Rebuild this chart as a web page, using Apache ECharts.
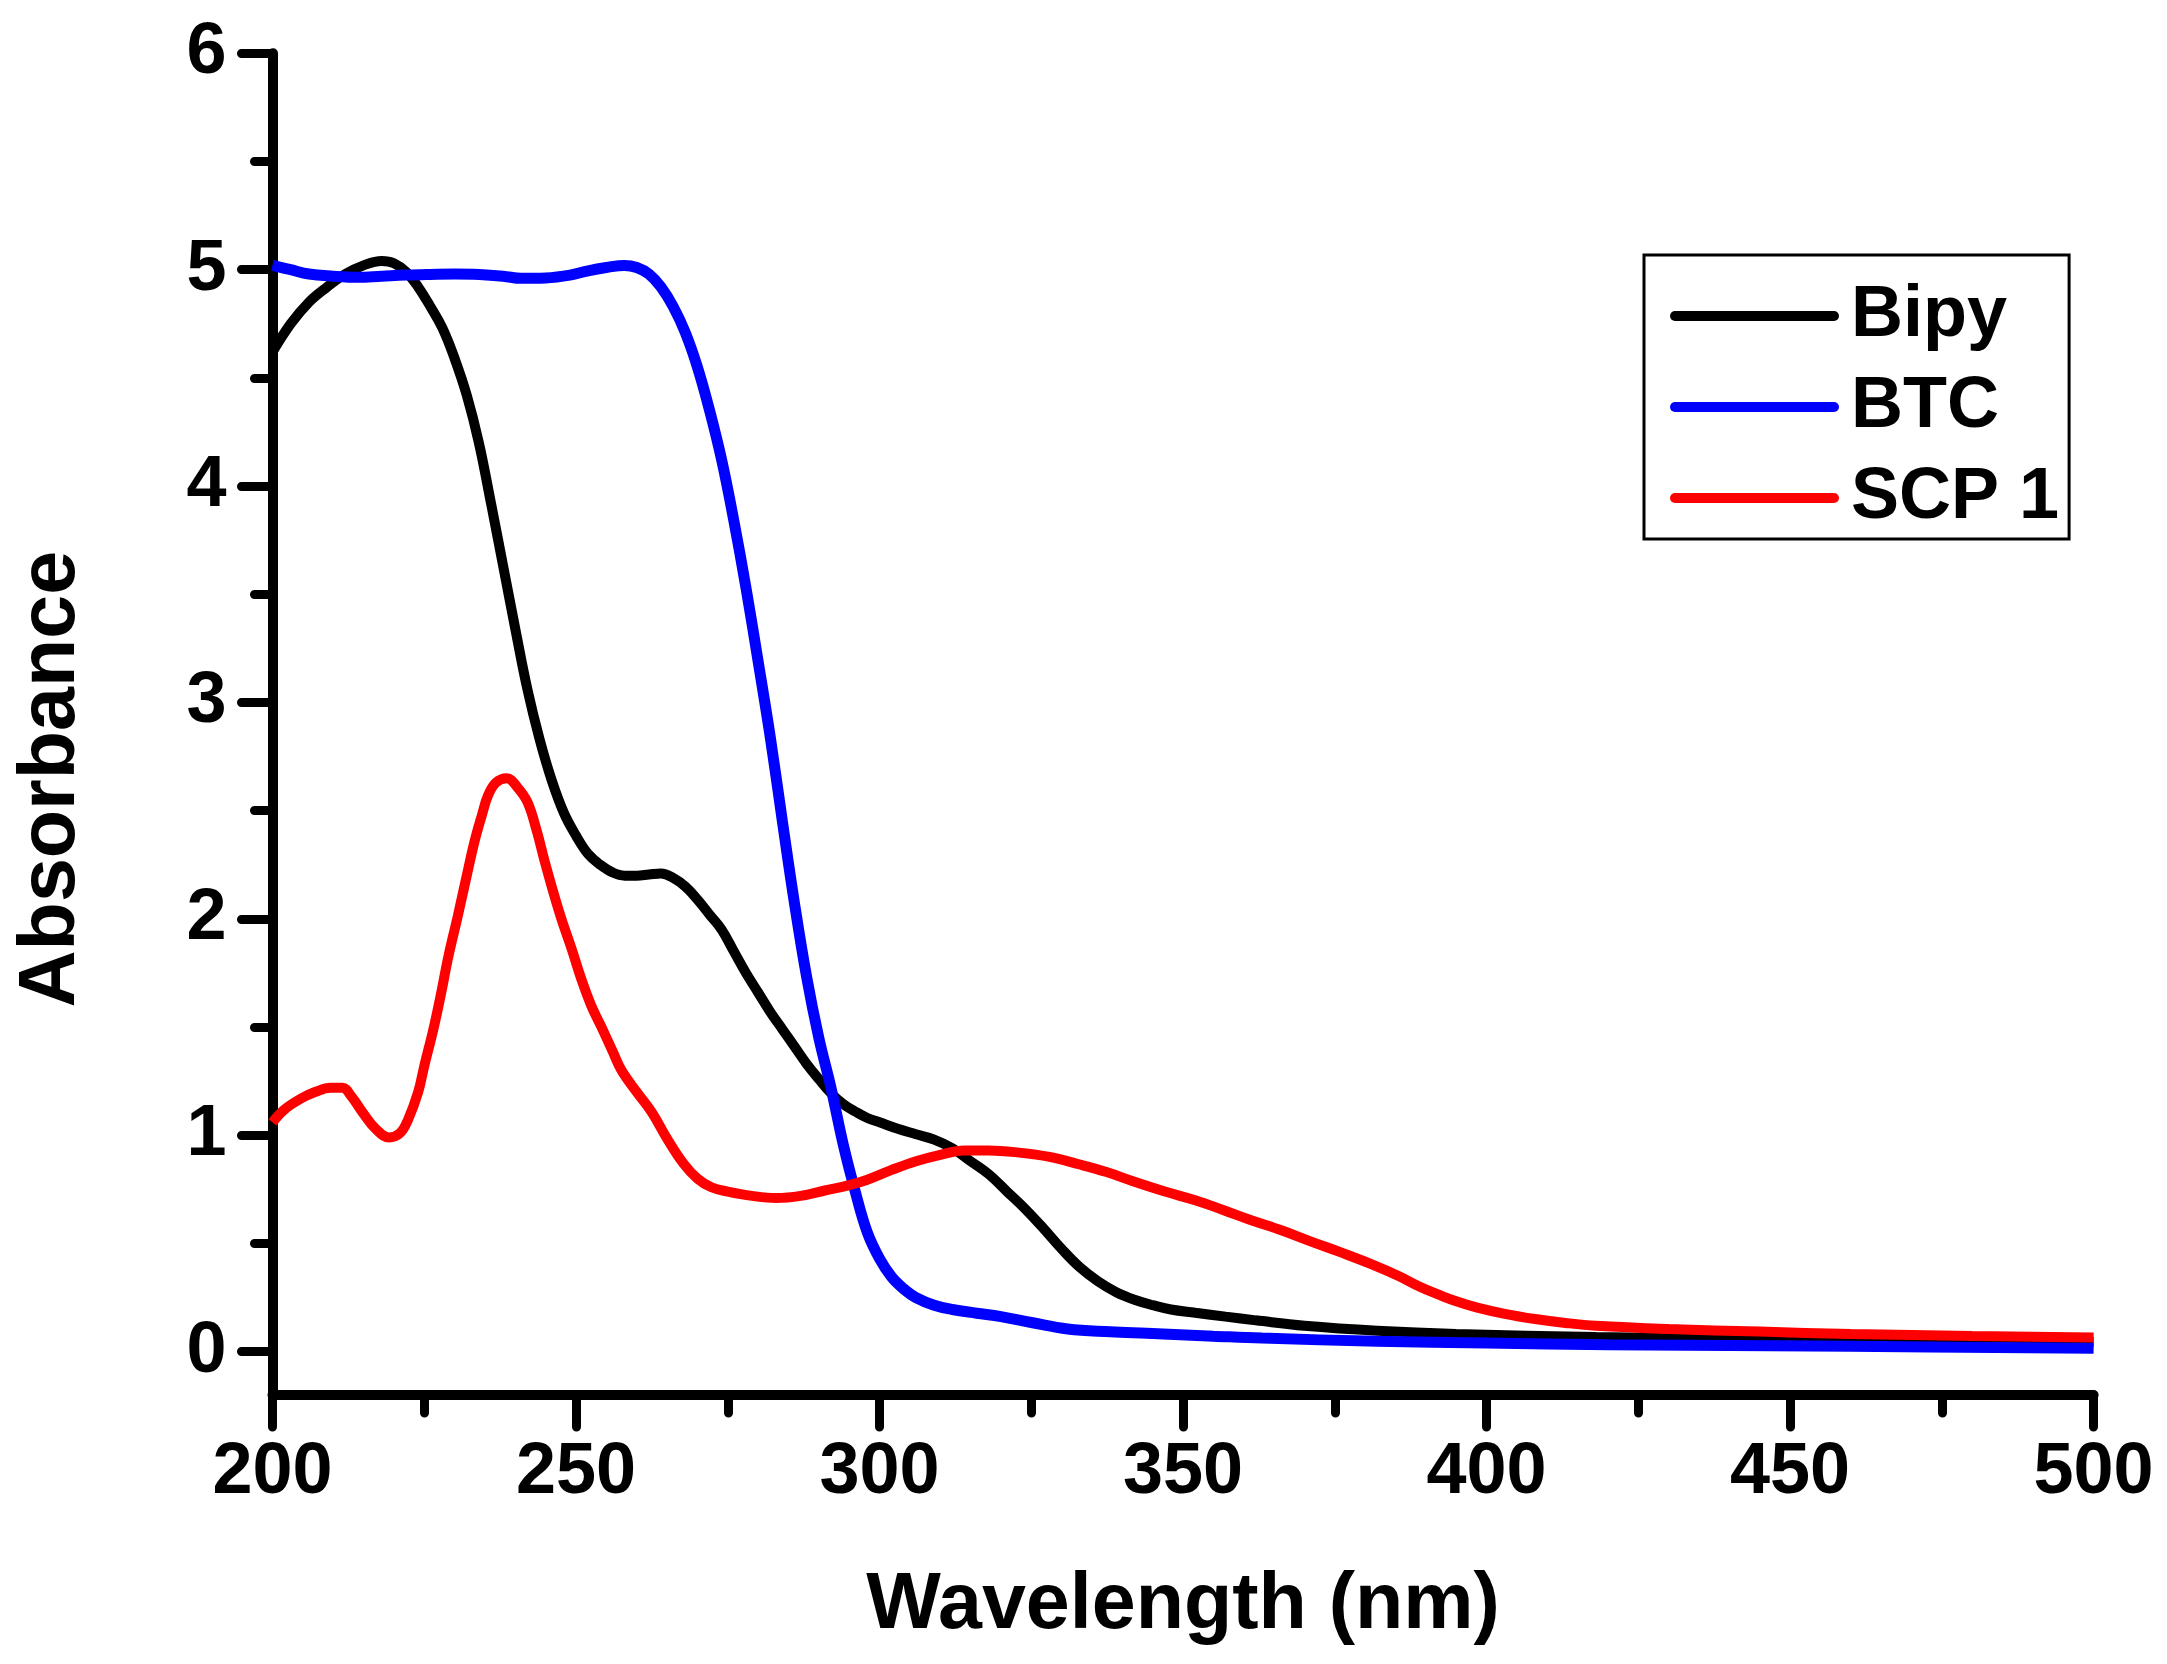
<!DOCTYPE html>
<html>
<head>
<meta charset="utf-8">
<script src="https://cdn.jsdelivr.net/npm/echarts@6/dist/echarts.min.js"></script>
<style>
html,body{margin:0;padding:0;background:#fff;}
#chart{width:2167px;height:1664px;}
</style>
</head>
<body>
<div id="chart"></div>
<script>
// ---- data ----
const bipyWl  = [200,203,206,209,212,215,218,220,222,224,226,228,230,232,234,236,238,240,242,244,246,248,250,252,254,256,258,260,262,264,266,268,270,272,274,276,278,280,282,284,286,288,290,292,294,296,298,300,303,306,309,312,315,318,321,324,327,330,333,336,339,342,345,348,352,357,362,370,382,395,418,440,467,500];
const bipyAbs = [4.62,4.75,4.85,4.92,4.98,5.02,5.04,5.03,4.99,4.92,4.83,4.73,4.59,4.42,4.20,3.92,3.63,3.34,3.06,2.83,2.64,2.49,2.385,2.30,2.25,2.215,2.20,2.20,2.205,2.21,2.19,2.15,2.09,2.02,1.95,1.85,1.75,1.66,1.57,1.49,1.41,1.33,1.26,1.195,1.145,1.11,1.08,1.06,1.03,1.005,0.98,0.94,0.88,0.82,0.74,0.66,0.57,0.475,0.39,0.325,0.275,0.24,0.215,0.195,0.18,0.162,0.145,0.12,0.097,0.082,0.068,0.06,0.054,0.045];

const btcWl  = [200,203,206,210,214,218,222,226,230,234,238,241,245,249,252,255,258,260,262,264,266,268,270,272,274,276,278,280,282,284,286,288,290,292,294,296,298,300,302,304,306,309,312,316,320,325,331,338,344,355,363,382,400,420,460,500];
const btcAbs = [5.02,5.0,4.98,4.97,4.965,4.97,4.975,4.978,4.98,4.978,4.97,4.96,4.962,4.975,4.995,5.01,5.02,5.01,4.98,4.92,4.83,4.71,4.55,4.35,4.12,3.84,3.53,3.19,2.84,2.45,2.07,1.73,1.45,1.22,0.96,0.74,0.55,0.43,0.345,0.29,0.25,0.215,0.195,0.178,0.162,0.135,0.105,0.092,0.085,0.072,0.063,0.048,0.04,0.032,0.025,0.016];

const scpWl  = [200,202,204.7,207,209.6,211.5,213,215,217,219.2,221,222.3,224,225,226.5,227.8,229,230.5,232,233.3,234.5,235.5,236.8,238.6,240.3,242,243.5,244.8,246.2,247.6,249.3,250.9,252.5,254.2,256,257.5,260,262.4,265.1,267.7,270,272.3,275,279,283,287,291,295,298,302,306,310,314,318,323,328,333,337.4,342,347,352,356.7,361,366.3,371,375.9,381,385.5,389,392,395,398.3,403,408,413,418,430,445,460,480,500];
const scpAbs = [1.06,1.12,1.17,1.20,1.22,1.22,1.18,1.10,1.03,0.99,1.01,1.07,1.2,1.32,1.49,1.66,1.83,2.01,2.2,2.36,2.48,2.57,2.63,2.65,2.61,2.54,2.41,2.27,2.13,2.0,1.86,1.72,1.60,1.50,1.39,1.30,1.2,1.11,0.98,0.87,0.80,0.76,0.74,0.72,0.71,0.72,0.745,0.77,0.795,0.84,0.88,0.91,0.93,0.93,0.92,0.90,0.865,0.83,0.785,0.74,0.70,0.654,0.61,0.56,0.51,0.46,0.405,0.35,0.30,0.265,0.233,0.205,0.175,0.151,0.133,0.12,0.105,0.093,0.082,0.073,0.066];

const seriesNames = ['Bipy','BTC','SCP 1'];
const yMajorTicks = [0,1,2,3,4,5,6];
const yMinorTicks = [0.5,1.5,2.5,3.5,4.5,5.5];

// ---- chart ----
const FONT = "'Liberation Sans', Arial, sans-serif";
const pair = (xs, ys) => xs.map((x, i) => [x, ys[i]]);
const LEGEND_ICON = 'path://M5,0 L164,0 A5,5 0 0 1 164,10 L5,10 A5,5 0 0 1 5,0 Z';

const chart = echarts.init(document.getElementById('chart'), null, {renderer: 'canvas'});

const axisLineStyle = {color: '#000', width: 10};
const tickStyle = {color: '#000', width: 9, cap: 'round'};

chart.setOption({
  animation: false,
  backgroundColor: '#ffffff',
  grid: {left: 272.5, right: 73.4, top: 53.3, bottom: 269, containLabel: false},
  legend: {
    show: true,
    orient: 'vertical',
    left: 1644,
    top: 255,
    padding: [25, 10, 5, 26],
    itemWidth: 169,
    itemHeight: 10,
    itemGap: 19,
    icon: LEGEND_ICON,
    symbolKeepAspect: true,
    borderColor: '#000',
    borderWidth: 3,
    backgroundColor: '#fff',
    data: seriesNames,
    textStyle: {fontFamily: FONT, fontWeight: 'bold', fontSize: 72, lineHeight: 72, color: '#000', padding: [0, 0, 0, 7]}
  },
  xAxis: {
    type: 'value',
    min: 200,
    max: 500,
    interval: 50,
    position: 'bottom',
    axisLine: {show: true, onZero: false, lineStyle: axisLineStyle},
    axisTick: {show: true, inside: false, length: 32, lineStyle: tickStyle},
    minorTick: {show: true, splitNumber: 2, length: 18, lineStyle: tickStyle},
    splitLine: {show: false},
    minorSplitLine: {show: false},
    axisLabel: {show: true, margin: 42, fontFamily: FONT, fontWeight: 'bold', fontSize: 72, color: '#000'},
    name: 'Wavelength (nm)',
    nameLocation: 'middle',
    nameGap: 172,
    nameTextStyle: {fontFamily: FONT, fontWeight: 'bold', fontSize: 79, color: '#000'}
  },
  yAxis: [{
    type: 'value',
    min: -0.2,
    max: 6,
    position: 'left',
    axisLine: {show: true, onZero: false, lineStyle: axisLineStyle},
    axisTick: {show: true, inside: false, length: 31, lineStyle: tickStyle, customValues: yMajorTicks},
    splitLine: {show: false},
    axisLabel: {show: true, margin: 46, fontFamily: FONT, fontWeight: 'bold', fontSize: 72, color: '#000', customValues: yMajorTicks},
    name: 'Absorbance',
    nameLocation: 'middle',
    nameGap: 181,
    nameRotate: 90,
    nameTextStyle: {fontFamily: FONT, fontWeight: 'bold', fontSize: 79, color: '#000', padding: [0, 110, 0, 0]}
  }, {
    type: 'value',
    min: -0.2,
    max: 6,
    position: 'left',
    offset: 0,
    axisLine: {show: false},
    axisTick: {show: true, inside: false, length: 18, lineStyle: tickStyle, customValues: yMinorTicks},
    splitLine: {show: false},
    axisLabel: {show: false, customValues: yMinorTicks}
  }],
  series: [
    {name: seriesNames[0], type: 'line', data: pair(bipyWl, bipyAbs), smooth: 0.4, symbol: 'none', showSymbol: false,
     lineStyle: {color: '#000000', width: 10}, itemStyle: {color: '#000000'}, z: 2},
    {name: seriesNames[1], type: 'line', data: pair(btcWl, btcAbs), smooth: 0.4, symbol: 'none', showSymbol: false,
     lineStyle: {color: '#0000ff', width: 11}, itemStyle: {color: '#0000ff'}, z: 3},
    {name: seriesNames[2], type: 'line', data: pair(scpWl, scpAbs), smooth: 0.4, symbol: 'none', showSymbol: false,
     lineStyle: {color: '#ff0000', width: 10}, itemStyle: {color: '#ff0000'}, z: 4}
  ]
});
</script>
</body>
</html>
